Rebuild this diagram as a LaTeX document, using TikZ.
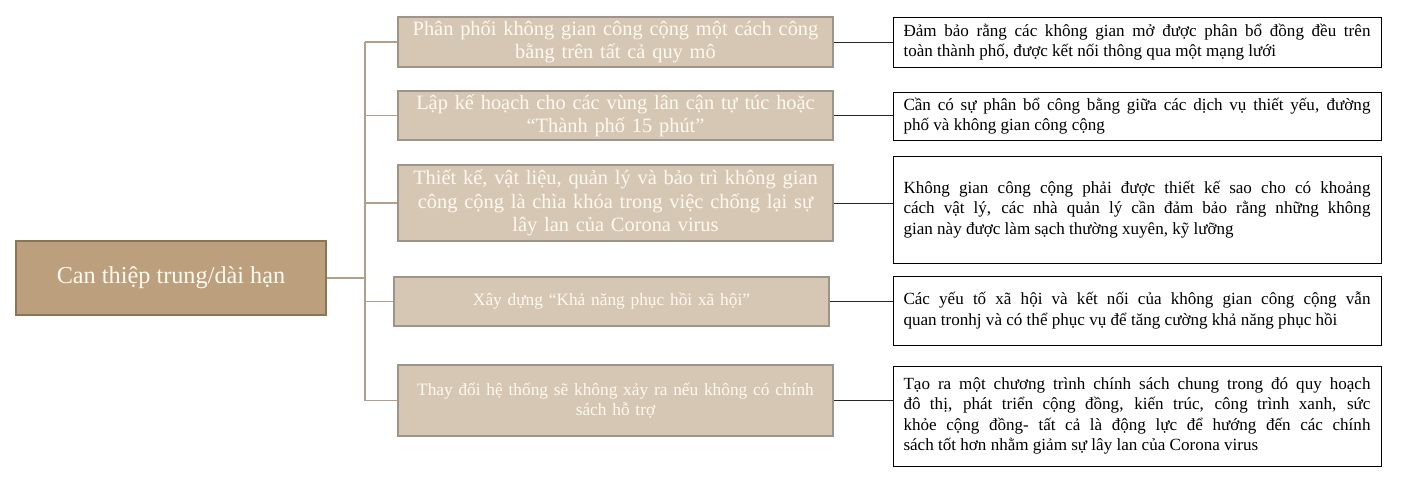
\documentclass[tikz,border=0pt]{standalone}
\usepackage{fontspec}
\setmainfont{Liberation Serif}
\definecolor{rootfill}{HTML}{BCA07E}
\definecolor{rootline}{HTML}{8A7556}
\definecolor{midfill}{HTML}{D6C7B4}
\definecolor{midline}{HTML}{9D958A}
\definecolor{treeline}{HTML}{B0A08A}
\definecolor{boxtext}{HTML}{FFF9F0}
\begin{document}
\begin{tikzpicture}[x=0.75pt,y=-0.75pt,
  rootbox/.style={draw=rootline,line width=1.5pt,fill=rootfill,text=boxtext,
    minimum width=232.5pt,minimum height=55.5pt,inner sep=0pt,
    font=\fontsize{18.2}{22}\selectfont},
  midbox/.style={draw=midline,line width=1.5pt,fill=midfill,text=boxtext,
    minimum width=326.25pt,inner sep=0pt,text width=320pt,align=center,
    font=\fontsize{15.3}{17.4}\selectfont},
  midsmall/.style={midbox,font=\fontsize{13}{14.5}\selectfont},
  notebox/.style={draw=black,line width=0.75pt,fill=white,
    minimum width=366pt,inner sep=0pt,text width=350.25pt,align=justify,
    font=\fontsize{12.8}{15.3}\selectfont},
  tree/.style={draw=treeline,line width=0.9pt},
  link/.style={draw=black!85,line width=0.7pt}]
  \useasboundingbox (0,0) rectangle (1411,500);
  \node[rootbox] (root) at (171,278) {Can thiệp trung/dài hạn};
  \node[midbox,minimum height=37.5pt] (m1) at (615.5,42)
    {Phân phối không gian công cộng một cách công\\bằng trên tất cả quy mô};
  \node[midbox,minimum height=36.75pt] (m2) at (615.5,115.5)
    {Lập kế hoạch cho các vùng lân cận tự túc hoặc\\“Thành phố 15 phút”};
  \node[midbox,minimum height=57pt] (m3) at (615.5,203)
    {Thiết kế, vật liệu, quản lý và bảo trì không gian\\công cộng là chìa khóa trong việc chống lại sự\\lây lan của Corona virus};
  \node[midsmall,minimum height=36.75pt] (m4) at (611.5,301.5)
    {Xây dựng “Khả năng phục hồi xã hội”};
  \node[midsmall,minimum height=53.25pt] (m5) at (615.5,400.5)
    {Thay đổi hệ thống sẽ không xảy ra nếu không có chính\\sách hỗ trợ};
  \node[notebox,minimum height=37.5pt] (r1) at (1137,42)
    {Đảm bảo rằng các không gian mở được phân bổ đồng đều trên\linebreak toàn thành phố, được kết nối thông qua một mạng lưới};
  \node[notebox,minimum height=36pt] (r2) at (1137,116)
    {Cần có sự phân bổ công bằng giữa các dịch vụ thiết yếu, đường\linebreak phố và không gian công cộng};
  \node[notebox,minimum height=80.25pt] (r3) at (1137,209.5)
    {Không gian công cộng phải được thiết kế sao cho có khoảng\linebreak cách vật lý, các nhà quản lý cần đảm bảo rằng những không\linebreak gian này được làm sạch thường xuyên, kỹ lưỡng};
  \node[notebox,minimum height=51.75pt] (r4) at (1137,310.5)
    {Các yếu tố xã hội và kết nối của không gian công cộng vẫn\linebreak quan tronhj và có thể phục vụ để tăng cường khả năng phục hồi};
  \node[notebox,minimum height=75pt] (r5) at (1137,416)
    {Tạo ra một chương trình chính sách chung trong đó quy hoạch\linebreak đô thị, phát triển cộng đồng, kiến trúc, công trình xanh, sức\linebreak khỏe cộng đồng- tất cả là động lực để hướng đến các chính\linebreak sách tốt hơn nhằm giảm sự lây lan của Corona virus};
  % tree on the left
  \coordinate (trunk) at (365,278);
  \draw[tree] (root.east) -- (trunk);
  \draw[tree] (m1.west -| trunk) -- (m5.west -| trunk);
  \draw[tree] (m1.west -| trunk) -- (m1.west);
  \draw[tree] (m2.west -| trunk) -- (m2.west);
  \draw[tree] (m3.west -| trunk) -- (m3.west);
  \draw[tree] (m4.west -| trunk) -- (m4.west);
  \draw[tree] (m5.west -| trunk) -- (m5.west);
  % links to the notes
  \draw[link] (m1.east) -- (m1.east -| r1.west);
  \draw[link] (m2.east) -- (m2.east -| r2.west);
  \draw[link] (m3.east) -- (m3.east -| r3.west);
  \draw[link] (m4.east) -- (m4.east -| r4.west);
  \draw[link] (m5.east) -- (m5.east -| r5.west);
\end{tikzpicture}
\end{document}
